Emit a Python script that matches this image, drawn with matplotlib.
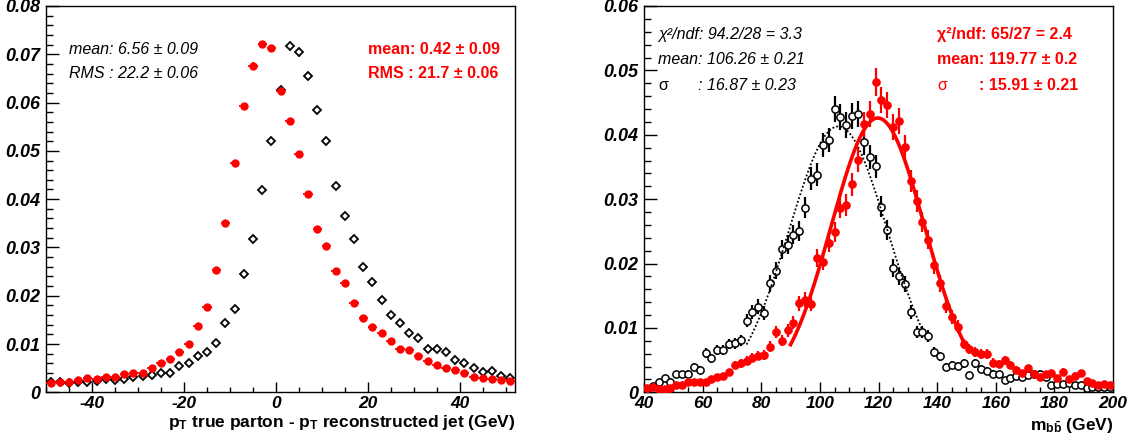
import numpy as np
import matplotlib
matplotlib.use('Agg')
import matplotlib.pyplot as plt
from matplotlib.ticker import MultipleLocator

plt.rcParams['font.family'] = ['Liberation Sans', 'DejaVu Sans']
plt.rcParams['mathtext.fontset'] = 'custom'
plt.rcParams['mathtext.rm'] = 'Liberation Sans'
plt.rcParams['mathtext.bf'] = 'Liberation Sans:bold'
plt.rcParams['mathtext.it'] = 'Liberation Sans:italic'

# ---------------- data : left panel (pT difference, 2 GeV bins) ----------------
pt_centers = np.arange(-49, 52, 2)
pt_black = [0.0021, 0.0021, 0.0019, 0.0021, 0.0022, 0.0023, 0.0027, 0.0025, 0.0028, 0.0031,
            0.0034, 0.0035, 0.0039, 0.0041, 0.0054, 0.0061, 0.0075, 0.0083, 0.0103, 0.0143,
            0.0173, 0.0245, 0.0317, 0.0419, 0.0521, 0.0627, 0.0717, 0.0704, 0.0655, 0.0584,
            0.0521, 0.0428, 0.0366, 0.0317, 0.0260, 0.0229, 0.0191, 0.0161, 0.0144, 0.0122,
            0.0113, 0.0089, 0.0089, 0.0083, 0.0067, 0.0060, 0.0050, 0.0043, 0.0044, 0.0034,
            0.0030]
pt_red = [0.0020, 0.0022, 0.0022, 0.0025, 0.0029, 0.0028, 0.0031, 0.0032, 0.0038, 0.0040,
          0.0040, 0.0050, 0.0061, 0.0068, 0.0084, 0.0101, 0.0138, 0.0177, 0.0253, 0.0350,
          0.0474, 0.0593, 0.0676, 0.0721, 0.0712, 0.0624, 0.0562, 0.0493, 0.0411, 0.0338,
          0.0304, 0.0252, 0.0226, 0.0184, 0.0153, 0.0136, 0.0122, 0.0106, 0.0090, 0.0087,
          0.0075, 0.0065, 0.0056, 0.0050, 0.0046, 0.0039, 0.0032, 0.0030, 0.0028, 0.0025,
          0.0023]

# ---------------- data : right panel (m_bb, 2 GeV bins) ----------------
m_centers = np.arange(41, 200, 2)
m_black = [0.0005, 0.0010, 0.0016, 0.0022, 0.0016, 0.0028, 0.0028, 0.0029, 0.0040, 0.0035,
           0.0061, 0.0053, 0.0066, 0.0065, 0.0075, 0.0076, 0.0081, 0.0111, 0.0125, 0.0133,
           0.0123, 0.0169, 0.0189, 0.0222, 0.0229, 0.0245, 0.0251, 0.0287, 0.0332, 0.0338,
           0.0384, 0.0392, 0.0440, 0.0428, 0.0415, 0.0429, 0.0432, 0.0388, 0.0366, 0.0351,
           0.0288, 0.0252, 0.0193, 0.0180, 0.0168, 0.0125, 0.0094, 0.0093, 0.0087, 0.0063,
           0.0056, 0.0040, 0.0042, 0.0041, 0.0045, 0.0027, 0.0045, 0.0036, 0.0033, 0.0029,
           0.0028, 0.0019, 0.0022, 0.0025, 0.0023, 0.0027, 0.0029, 0.0029, 0.0023, 0.0011,
           0.0013, 0.0013, 0.0014, 0.0011, 0.0012, 0.0006, 0.0008, 0.0008, 0.0009, 0.0008]
m_red = [0.0007, 0.0009, 0.0005, 0.0005, 0.0006, 0.0011, 0.0011, 0.0016, 0.0016, 0.0016,
         0.0016, 0.0020, 0.0024, 0.0025, 0.0031, 0.0043, 0.0045, 0.0049, 0.0054, 0.0057,
         0.0058, 0.0071, 0.0093, 0.0080, 0.0096, 0.0108, 0.0138, 0.0144, 0.0137, 0.0209,
         0.0203, 0.0232, 0.0249, 0.0287, 0.0291, 0.0323, 0.0361, 0.0416, 0.0433, 0.0482,
         0.0454, 0.0446, 0.0412, 0.0421, 0.0381, 0.0328, 0.0297, 0.0264, 0.0237, 0.0197,
         0.0169, 0.0134, 0.0117, 0.0102, 0.0075, 0.0067, 0.0062, 0.0060, 0.0060, 0.0046,
         0.0044, 0.0050, 0.0042, 0.0035, 0.0030, 0.0037, 0.0028, 0.0024, 0.0028, 0.0030,
         0.0022, 0.0032, 0.0021, 0.0026, 0.0030, 0.0018, 0.0015, 0.0012, 0.0013, 0.0011]

# Gaussian fit parameters (amplitude, mean, sigma, fit range)
fit_black = (0.0413, 106.26, 16.87, 75.0, 135.0)
fit_red = (0.0426, 119.77, 15.91, 90.0, 149.0)

# Poisson-like error scale of the histograms
ERR_LEFT = 0.0027
ERR_RIGHT = 0.0097

left_xticks = [-40, -20, 0, 20, 40]
left_yticks = [0, 0.01, 0.02, 0.03, 0.04, 0.05, 0.06, 0.07, 0.08]
right_xticks = [40, 60, 80, 100, 120, 140, 160, 180, 200]
right_yticks = [0, 0.01, 0.02, 0.03, 0.04, 0.05, 0.06]

W, H = 1133, 443
fig = plt.figure(figsize=(W / 100, H / 100), dpi=100)


def px_axes(x0, x1, y0, y1):
    return fig.add_axes([x0 / W, 1 - y1 / H, (x1 - x0) / W, (y1 - y0) / H])


def ylab(v):
    return '0' if abs(v) < 1e-12 else f'{v:.2f}'


def style_axes(ax, xt, yt, xminor, yminor):
    ax.set_xticks(xt)
    ax.set_xticklabels([str(v) for v in xt], fontsize=12.5, fontweight='bold', fontstyle='italic')
    ax.set_yticks(yt)
    ax.set_yticklabels([ylab(v) for v in yt], fontsize=13, fontweight='bold', fontstyle='italic')
    ax.xaxis.set_minor_locator(MultipleLocator(xminor))
    ax.yaxis.set_minor_locator(MultipleLocator(yminor))
    ax.tick_params(axis='x', which='major', direction='in', length=7.5, width=1, pad=3)
    ax.tick_params(axis='x', which='minor', direction='in', length=3.8, width=1)
    ax.tick_params(axis='y', which='major', direction='in', length=9.5, width=1, pad=4)
    ax.tick_params(axis='y', which='minor', direction='in', length=4.8, width=1)
    for s in ax.spines.values():
        s.set_linewidth(1.0)


# ---------------- left panel ----------------
axL = px_axes(46, 515, 6, 392.3)
yb = np.array(pt_black)
yr = np.array(pt_red)
axL.errorbar(pt_centers, yb, yerr=ERR_LEFT * np.sqrt(yb), fmt='D', ms=4.4, mfc='white',
             mec='black', mew=1.3, color='black', elinewidth=1.0, capsize=0, zorder=3)
axL.errorbar(pt_centers, yr, xerr=1.0, yerr=ERR_LEFT * np.sqrt(yr), fmt='o', ms=5.0, mfc='red',
             mec='red', color='red', elinewidth=1.3, capsize=0, zorder=4)
axL.set_xlim(-50, 52)
axL.set_ylim(0, 0.08)
style_axes(axL, left_xticks, left_yticks, 5, 0.002)

fs_txt = 11.5
fig.text(69 / W, 1 - 49 / H, 'mean: 6.56 ± 0.09', fontsize=fs_txt, fontstyle='italic', va='center')
fig.text(69 / W, 1 - 74 / H, 'RMS : 22.2 ± 0.06', fontsize=fs_txt, fontstyle='italic', va='center')
fig.text(368 / W, 1 - 49 / H, 'mean: 0.42 ± 0.09', fontsize=fs_txt, fontweight='bold', color='red', va='center')
fig.text(368 / W, 1 - 74 / H, 'RMS : 21.7 ± 0.06', fontsize=fs_txt, fontweight='bold', color='red', va='center')
fig.text(515 / W, 1 - 427 / H,
         r'$\mathbf{p_{T}}$ true parton - $\mathbf{p_{T}}$ reconstructed jet (GeV)',
         fontsize=12.5, fontweight='bold', ha='right', va='baseline')

# ---------------- right panel ----------------
axR = px_axes(644, 1113, 6, 392.3)
mb = np.array(m_black)
mr = np.array(m_red)
axR.errorbar(m_centers, mb, yerr=ERR_RIGHT * np.sqrt(mb), fmt='o', ms=5.2, mfc='white',
             mec='black', mew=1.1, color='black', elinewidth=1.6, capsize=0, zorder=3)
axR.errorbar(m_centers, mr, yerr=ERR_RIGHT * np.sqrt(mr), fmt='o', ms=5.2, mfc='red',
             mec='red', color='red', elinewidth=1.6, capsize=0, zorder=4)

for (amp, mu, sig, lo, hi), col, ls, lw in [(fit_black, 'black', (0, (1, 1.2)), 1.3),
                                            (fit_red, 'red', '-', 2.6)]:
    xx = np.linspace(lo, hi, 300)
    axR.plot(xx, amp * np.exp(-0.5 * ((xx - mu) / sig) ** 2), color=col, ls=ls, lw=lw, zorder=5)

axR.set_xlim(40, 200)
axR.set_ylim(0, 0.06)
style_axes(axR, right_xticks, right_yticks, 5, 0.002)

fig.text(658 / W, 1 - 34 / H, 'χ²/ndf: 94.2/28 = 3.3', fontsize=fs_txt, fontstyle='italic', va='center')
fig.text(658 / W, 1 - 60 / H, 'mean: 106.26 ± 0.21', fontsize=fs_txt, fontstyle='italic', va='center')
fig.text(658 / W, 1 - 86 / H, 'σ', fontsize=fs_txt, va='center')
fig.text(698 / W, 1 - 86 / H, ': 16.87 ± 0.23', fontsize=fs_txt, fontstyle='italic', va='center')
fig.text(937 / W, 1 - 34 / H, 'χ²/ndf: 65/27 = 2.4', fontsize=fs_txt, fontweight='bold', color='red', va='center')
fig.text(937 / W, 1 - 60 / H, 'mean: 119.77 ± 0.2', fontsize=fs_txt, fontweight='bold', color='red', va='center')
fig.text(937 / W, 1 - 86 / H, 'σ', fontsize=fs_txt, color='red', va='center')
fig.text(979 / W, 1 - 86 / H, ': 15.91 ± 0.21', fontsize=fs_txt, fontweight='bold', color='red', va='center')
fig.text(1113 / W, 1 - 430 / H, r'$\mathbf{m_{b\bar{b}}}$ (GeV)',
         fontsize=12.5, fontweight='bold', ha='right', va='baseline')

fig.savefig('out.png', dpi=100)
